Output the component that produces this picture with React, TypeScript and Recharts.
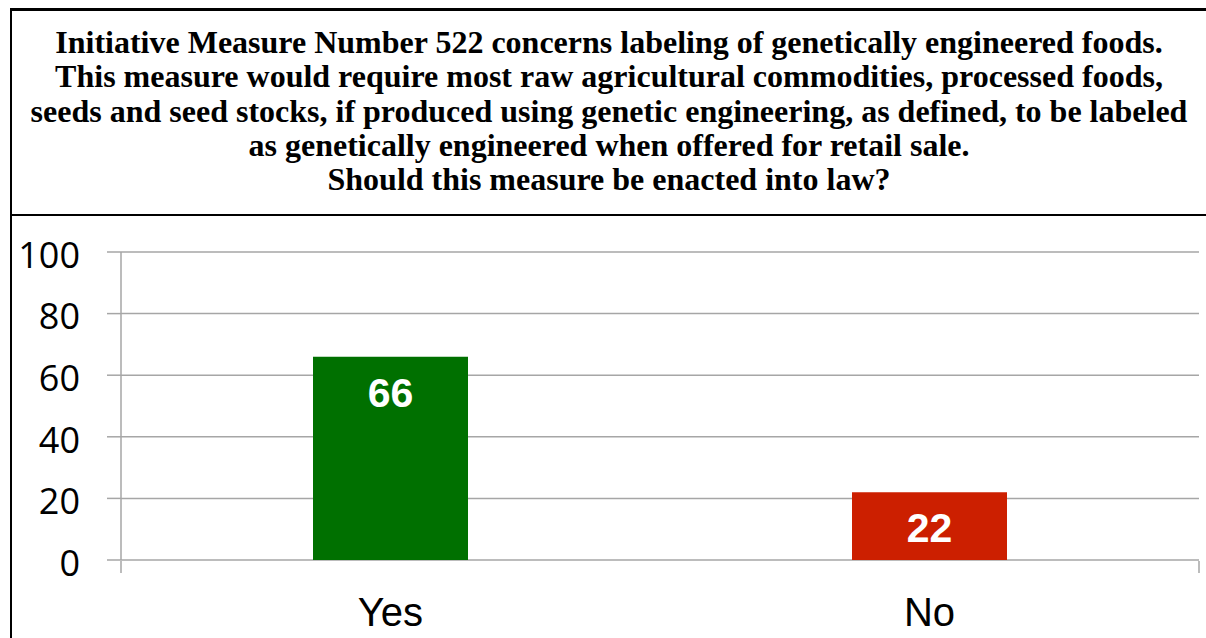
import React from 'react';
import {
  BarChart,
  Bar,
  XAxis,
  YAxis,
  CartesianGrid,
  Cell,
  LabelList,
} from 'recharts';

// Survey answers and percentages
const CATEGORIES = ['Yes', 'No'];
const VALUES = [66, 22];
const BAR_COLORS = ['#007000', '#cc1f00'];
const Y_TICKS = [0, 20, 40, 60, 80, 100];
// category boundaries for the little tick marks under the x axis
const EDGE_TICKS = [0, 1, 2];

const TITLE_LINES = [
  'Initiative Measure Number 522 concerns labeling of genetically engineered foods.',
  'This measure would require most raw agricultural commodities, processed foods,',
  'seeds and seed stocks, if produced using genetic engineering, as defined, to be labeled',
  'as genetically engineered when offered for retail sale.',
  'Should this measure be enacted into law?',
];

const GRID = '#a6a6a6';

const chartData = CATEGORIES.map((name, i) => ({ name, value: VALUES[i] }));

// tick mark only, no text
const EmptyTick = () => <g />;

const App: React.FC = () => {
  return (
    <div style={{ position: 'absolute', left: 0, top: 0, width: 1206, height: 638, background: '#fff' }}>
      {/* question box */}
      <div
        style={{
          position: 'absolute',
          left: 10,
          top: 8,
          width: 1196,
          height: 208,
          boxSizing: 'border-box',
          borderTop: '3px solid #000',
          borderLeft: '2px solid #000',
          borderBottom: '2px solid #000',
          paddingTop: 14,
          textAlign: 'center',
          fontFamily: '"Liberation Serif", "Times New Roman", serif',
          fontWeight: 'bold',
          fontSize: 32,
          lineHeight: '34.3px',
          color: '#000',
        }}
      >
        {TITLE_LINES.map((line) => (
          <div key={line} style={{ whiteSpace: 'nowrap' }}>{line}</div>
        ))}
      </div>
      {/* left frame line continuing below the box */}
      <div style={{ position: 'absolute', left: 10, top: 214, width: 2, height: 424, background: '#000' }} />

      <div style={{ position: 'absolute', left: 0, top: 216 }}>
        <BarChart
          width={1206}
          height={422}
          data={chartData}
          margin={{ top: 36, right: 7, left: 0, bottom: 76 }}
        >
          <CartesianGrid vertical={false} stroke={GRID} strokeWidth={1.5} />
          <XAxis
            xAxisId="edges"
            type="number"
            domain={[0, 2]}
            ticks={EDGE_TICKS}
            interval={0}
            allowDataOverflow
            height={1}
            tick={EmptyTick}
            axisLine={false}
            tickSize={12}
            tickLine={{ stroke: GRID, strokeWidth: 1.5 }}
          />
          <XAxis
            dataKey="name"
            height={1}
            tickLine={false}
            tickSize={0}
            tickMargin={38}
            axisLine={false}
            interval={0}
            tick={{ fontSize: 40, fill: '#000', fontFamily: '"Liberation Sans", Arial, sans-serif' }}
          />
          <YAxis
            width={121}
            domain={[0, 100]}
            ticks={Y_TICKS}
            interval={0}
            tickSize={14}
            tickMargin={27}
            axisLine={{ stroke: GRID, strokeWidth: 1.5 }}
            tickLine={{ stroke: GRID, strokeWidth: 1.5 }}
            tick={{ fontSize: 36, fill: '#000', fontFamily: '"Open Sans", sans-serif', dy: 3 }}
          />
          <Bar dataKey="value" barSize={155} isAnimationActive={false}>
            {chartData.map((_entry, index) => (
              <Cell key={`cell-${index}`} fill={BAR_COLORS[index]} />
            ))}
            <LabelList
              dataKey="value"
              position="insideTop"
              offset={21}
              fill="#fff"
              fontSize={41}
              fontWeight="bold"
              fontFamily='"Liberation Sans", Arial, sans-serif'
            />
          </Bar>
        </BarChart>
      </div>
    </div>
  );
};

export default App;
